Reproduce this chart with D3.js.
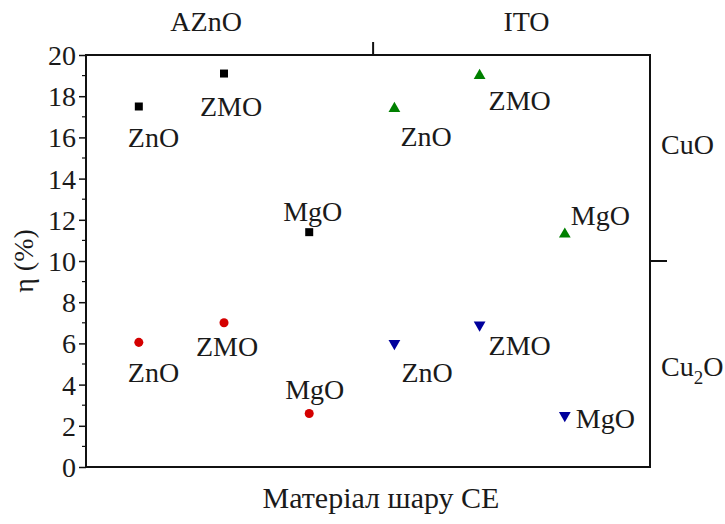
<!DOCTYPE html>
<html>
<head>
<meta charset="utf-8">
<script src="https://cdn.jsdelivr.net/npm/d3@7"></script>
<style>
  body { margin: 0; background: #fff; }
</style>
</head>
<body>
<svg id="chart"></svg>
<script>
// Data
const materials = ["ZnO", "ZMO", "MgO"];
const substrates = ["AZnO", "ITO"];
const absorbers = ["CuO", "Cu2O"];
const xPositions = [1, 2, 3, 4, 5, 6]; // AZnO: 1-3, ITO: 4-6
const cuoAZnO = [17.5, 19.1, 11.4];
const cuoITO = [17.4, 19.0, 11.3];
const cu2oAZnO = [6.05, 7.0, 2.6];
const cu2oITO = [6.0, 6.9, 2.5];
const yTicks = [0, 2, 4, 6, 8, 10, 12, 14, 16, 18, 20];

// label offsets (dx, dy) from the marker, per series
const labelOffsets = {
  cuoAZnO: [[-11, 40], [-24, 42], [-26, -11]],
  cu2oAZnO: [[-11, 40], [-28, 33], [-24, -14]],
  cuoITO: [[6, 37], [9, 34], [6, -9]],
  cu2oITO: [[7, 39], [9, 30], [11, 12]]
};

const FONT = "'Liberation Serif'";
const width = 725, height = 524;
const margin = { top: 55, right: 75, bottom: 57, left: 86 };

const svg = d3.select("#chart")
  .attr("width", width)
  .attr("height", height)
  .style("font-family", FONT);

const x = d3.scaleLinear()
  .domain([0.38, 7.0])
  .range([margin.left, width - margin.right]);

const y = d3.scaleLinear()
  .domain([0, 20])
  .range([height - margin.bottom, margin.top]);

// Frame
svg.append("rect")
  .attr("x", margin.left)
  .attr("y", margin.top)
  .attr("width", x.range()[1] - x.range()[0])
  .attr("height", y.range()[0] - y.range()[1])
  .attr("fill", "none")
  .attr("stroke", "#111")
  .attr("stroke-width", 2);

// Left axis, major + minor ticks
const yAxis = d3.axisLeft(y)
  .tickValues(yTicks)
  .tickSize(7)
  .tickPadding(3)
  .tickFormat(d3.format("d"));

const yg = svg.append("g")
  .attr("transform", `translate(${margin.left},0)`)
  .call(yAxis)
  .attr("font-family", null)
  .attr("font-size", null);
yg.select(".domain").remove();
yg.selectAll(".tick line").attr("stroke", "#111").attr("stroke-width", 1.5);
yg.selectAll(".tick text")
  .style("font-family", FONT)
  .style("font-size", "28px")
  .attr("fill", "#1a1a1a")
  .attr("dy", "0.34em");

const minor = d3.range(1, 20, 2);
svg.append("g")
  .selectAll("line")
  .data(minor)
  .enter()
  .append("line")
  .attr("x1", margin.left - 4)
  .attr("x2", margin.left)
  .attr("y1", d => y(d))
  .attr("y2", d => y(d))
  .attr("stroke", "#111")
  .attr("stroke-width", 1.2);

// Top divider tick between substrate groups
svg.append("line")
  .attr("x1", x(3.75)).attr("x2", x(3.75))
  .attr("y1", margin.top).attr("y2", margin.top - 13)
  .attr("stroke", "#111").attr("stroke-width", 2);

// Right divider tick between absorbers
svg.append("line")
  .attr("x1", x.range()[1]).attr("x2", x.range()[1] + 17)
  .attr("y1", y(10)).attr("y2", y(10))
  .attr("stroke", "#111").attr("stroke-width", 2);

// Top group labels
svg.selectAll(".sub-label")
  .data(substrates)
  .enter()
  .append("text")
  .attr("class", "sub-label")
  .attr("x", (d, i) => x(i === 0 ? 1.79 : 5.55))
  .attr("y", 31)
  .attr("text-anchor", "middle")
  .attr("fill", "#1a1a1a")
  .style("font-family", FONT)
  .style("font-size", "28px")
  .text(d => d);

// Right absorber labels
svg.append("text")
  .attr("x", 661).attr("y", y(15.2))
  .attr("fill", "#1a1a1a")
  .style("font-family", FONT)
  .style("font-size", "28px")
  .text(absorbers[0]);

const cu2o = svg.append("text")
  .attr("x", 661).attr("y", y(4.4))
  .attr("fill", "#1a1a1a")
  .style("font-family", FONT)
  .style("font-size", "28px");
cu2o.append("tspan").text("Cu");
cu2o.append("tspan").attr("dy", 8).style("font-size", "19px").text("2");
cu2o.append("tspan").attr("dy", -8).text("O");

// Axis titles
svg.append("text")
  .attr("transform", `translate(33,${y(10)}) rotate(-90)`)
  .attr("text-anchor", "middle")
  .attr("fill", "#1a1a1a")
  .style("font-family", FONT)
  .style("font-size", "28px")
  .text("η (%)");

svg.append("text")
  .attr("x", 381)
  .attr("y", 508)
  .attr("text-anchor", "middle")
  .attr("fill", "#1a1a1a")
  .style("font-family", FONT)
  .style("font-size", "30px")
  .text("Матеріал шару СЕ");

// Series
const series = [
  { key: "cuoAZnO", values: cuoAZnO, xs: xPositions.slice(0, 3), color: "#000000", shape: d3.symbolSquare, size: 64, rot: 0 },
  { key: "cu2oAZnO", values: cu2oAZnO, xs: xPositions.slice(0, 3), color: "#d40000", shape: d3.symbolCircle, size: 64, rot: 0 },
  { key: "cuoITO", values: cuoITO, xs: xPositions.slice(3), color: "#008000", shape: d3.symbolTriangle, size: 60, rot: 0 },
  { key: "cu2oITO", values: cu2oITO, xs: xPositions.slice(3), color: "#00009c", shape: d3.symbolTriangle, size: 60, rot: 180 }
];

series.forEach(s => {
  const pts = s.values.map((v, i) => ({ x: s.xs[i], y: v, name: materials[i], off: labelOffsets[s.key][i] }));

  svg.append("g")
    .selectAll("path")
    .data(pts)
    .enter()
    .append("path")
    .attr("d", d3.symbol().type(s.shape).size(s.size))
    .attr("transform", d => `translate(${x(d.x)},${y(d.y)}) rotate(${s.rot})`)
    .attr("fill", s.color);

  svg.append("g")
    .selectAll("text")
    .data(pts)
    .enter()
    .append("text")
    .attr("x", d => x(d.x) + d.off[0])
    .attr("y", d => y(d.y) + d.off[1])
    .attr("fill", "#1a1a1a")
    .style("font-family", FONT)
    .style("font-size", "28px")
    .text(d => d.name);
});
</script>
</body>
</html>
